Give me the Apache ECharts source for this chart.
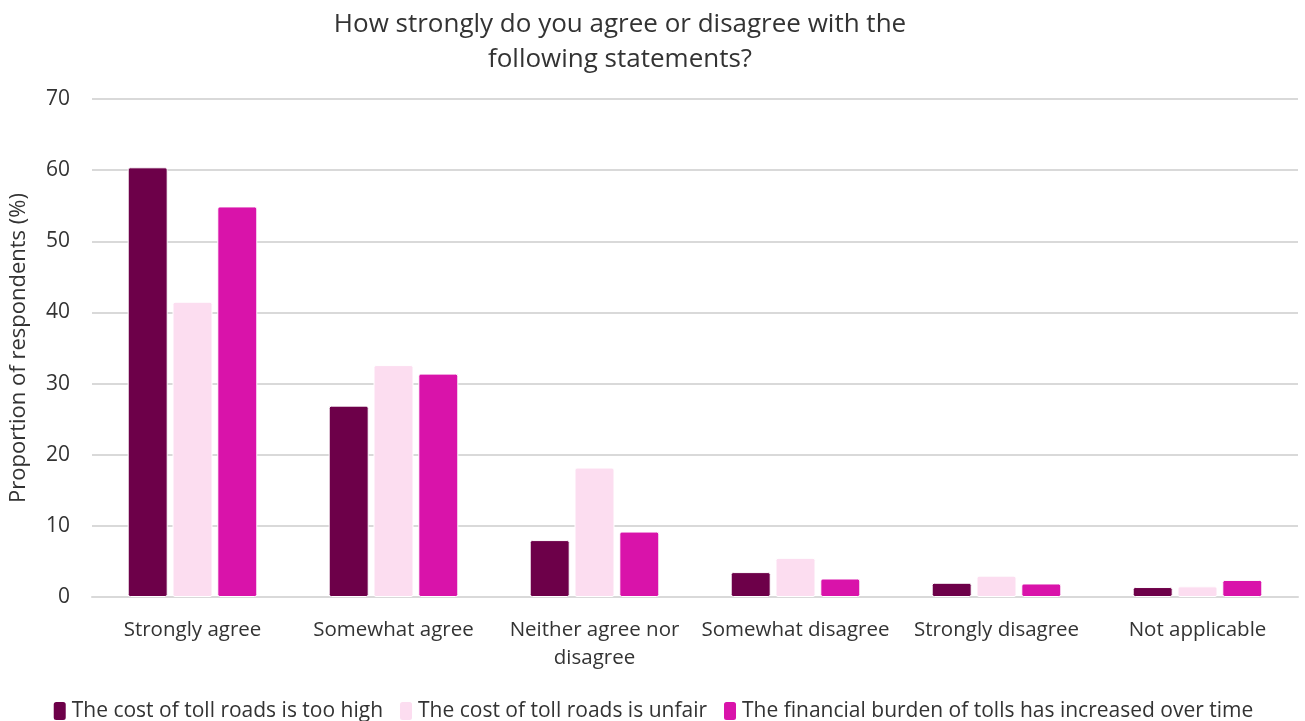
<!DOCTYPE html>
<html><head><meta charset="utf-8">
<script src="https://cdn.jsdelivr.net/npm/echarts@6/dist/echarts.min.js"></script>
<style>html,body{margin:0;padding:0;background:#fff}#c{width:1305px;height:721px}</style>
</head><body><div id="c"></div>
<script>
const categories = ['Strongly agree','Somewhat agree','Neither agree nor\ndisagree','Somewhat disagree','Strongly disagree','Not applicable'];
const seriesNames = ['The cost of toll roads is too high','The cost of toll roads is unfair','The financial burden of tolls has increased over time'];
const tooHigh = [60.4, 26.9, 8.0, 3.5, 2.0, 1.4];
const unfair = [41.5, 32.6, 18.2, 5.5, 3.0, 1.5];
const burden = [54.9, 31.4, 9.2, 2.6, 1.9, 2.4];
const yTicks = [0,10,20,30,40,50,60,70];
const colors = ['#6D0049','#FCDDF0','#D913AA'];
const font = 'Open Sans, Noto Sans, sans-serif';
const txt = '#333333';
const chart = echarts.init(document.getElementById('c'));
const mk = (name, data, i) => ({
  name, type:'bar', data, barWidth: 40, barGap: '12%',
  itemStyle:{color:colors[i], borderColor:'#fff', borderWidth:1, borderRadius:2}
});
chart.setOption({
  animation:false,
  title:{text:'How strongly do you agree or disagree with the\nfollowing statements?', left:615, textAlign:'center', top:2,
    textStyle:{fontFamily:font, fontSize:26, fontWeight:'normal', color:txt, lineHeight:35}},
  legend:{bottom:-6, left:'center', itemWidth:14, itemHeight:20, itemGap:15, icon:'roundRect',
    textStyle:{fontFamily:font, fontSize:21, color:txt, padding:[0,0,0,0]}},
  grid:{left:89, right:7, top:99, bottom:124},
  xAxis:{type:'category', data:categories, axisTick:{show:false},
    axisLine:{show:true, lineStyle:{color:'#D9D9D9', width:2}},
    axisLabel:{fontFamily:font, fontSize:20.5, color:txt, margin:19, lineHeight:28, interval:0}},
  yAxis:{type:'value', min:0, max:70, interval:10, name:'Proportion of respondents (%)',
    nameLocation:'middle', nameGap:62, nameRotate:90,
    nameTextStyle:{fontFamily:font, fontSize:22, color:txt},
    axisLabel:{fontFamily:font, fontSize:21, color:txt, margin:22,
      formatter:v=>yTicks.includes(v)?String(v):''},
    splitLine:{lineStyle:{color:'#D9D9D9', width:2}}},
  series:[mk(seriesNames[0],tooHigh,0), mk(seriesNames[1],unfair,1), mk(seriesNames[2],burden,2)]
});
</script></body></html>
